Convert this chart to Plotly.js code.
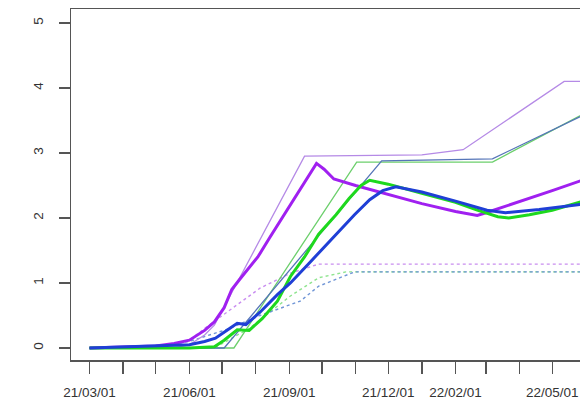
<!DOCTYPE html>
<html>
<head>
<meta charset="utf-8">
<script src="https://cdn.plot.ly/plotly-3.0.1.min.js"></script>
<style>
html,body{margin:0;padding:0;overflow:hidden;background:#fff;width:580px;height:401px;}
#chart{width:620px;height:401px;}
</style>
</head>
<body>
<div id="chart"></div>
<script>
// ---- data ----
var purpleThickX = ["2021-03-01","2021-04-01","2021-05-01","2021-05-18","2021-06-01","2021-06-15","2021-06-24","2021-07-03","2021-07-10","2021-07-17","2021-07-24","2021-08-03","2021-08-14","2021-09-02","2021-09-15","2021-09-26","2021-10-03","2021-10-12","2021-11-01","2021-12-01","2022-01-01","2022-02-01","2022-02-21","2022-03-01","2022-04-01","2022-05-01","2022-06-01"];
var purpleThickY = [0,0.01,0.03,0.07,0.12,0.27,0.4,0.62,0.9,1.05,1.2,1.4,1.7,2.2,2.55,2.84,2.75,2.6,2.5,2.36,2.22,2.1,2.04,2.08,2.25,2.42,2.6];

var purpleThinX = ["2021-03-01","2021-05-18","2021-06-01","2021-06-15","2021-06-24","2021-09-15","2022-01-01","2022-02-08","2022-05-12","2022-06-01"];
var purpleThinY = [0,0,0.05,0.2,0.35,2.95,2.97,3.05,4.1,4.1];

var purpleDotX = ["2021-03-01","2021-05-05","2021-06-01","2021-06-15","2021-07-08","2021-08-05","2021-09-02","2021-09-28","2022-06-01"];
var purpleDotY = [0,0.02,0.12,0.3,0.58,0.92,1.15,1.29,1.29];

var greenThickX = ["2021-03-01","2021-06-01","2021-06-24","2021-07-03","2021-07-15","2021-07-26","2021-08-07","2021-08-21","2021-09-02","2021-09-15","2021-09-28","2021-10-14","2021-10-26","2021-11-06","2021-11-14","2021-12-01","2022-01-01","2022-02-01","2022-02-21","2022-03-12","2022-03-22","2022-04-10","2022-05-01","2022-06-01"];
var greenThickY = [0,0,0.02,0.12,0.28,0.27,0.45,0.72,1.1,1.4,1.75,2.05,2.3,2.5,2.58,2.52,2.38,2.24,2.12,2.02,2.0,2.05,2.12,2.27];

var greenThinX = ["2021-03-01","2021-07-12","2021-11-02","2022-03-07","2022-06-01"];
var greenThinY = [0,0,2.86,2.86,3.62];

var greenDotX = ["2021-03-01","2021-06-24","2021-07-26","2021-08-14","2021-09-02","2021-09-28","2021-10-23","2022-06-01"];
var greenDotY = [0,0,0.3,0.55,0.8,1.08,1.17,1.17];

var blueThickX = ["2021-03-01","2021-05-05","2021-06-01","2021-06-15","2021-06-25","2021-07-08","2021-07-15","2021-07-23","2021-08-05","2021-08-21","2021-09-02","2021-09-19","2021-10-14","2021-10-31","2021-11-14","2021-11-26","2021-12-08","2022-01-01","2022-02-01","2022-03-02","2022-03-19","2022-04-19","2022-06-01"];
var blueThickY = [0,0.03,0.05,0.1,0.15,0.3,0.38,0.36,0.55,0.82,1.0,1.3,1.75,2.05,2.28,2.42,2.48,2.4,2.26,2.12,2.08,2.13,2.22];

var blueThinX = ["2021-03-01","2021-07-03","2021-11-25","2022-03-07","2022-06-01"];
var blueThinY = [0,0,2.88,2.91,3.6];

var blueDotX = ["2021-03-01","2021-05-05","2021-06-01","2021-07-08","2021-08-05","2021-09-11","2021-09-28","2021-10-31","2022-06-01"];
var blueDotY = [0,0.03,0.1,0.3,0.5,0.72,0.95,1.17,1.17];

var tickDates = ["2021-03-01","2021-04-01","2021-05-01","2021-06-01","2021-07-01","2021-08-01","2021-09-01","2021-10-01","2021-11-01","2021-12-01","2022-01-01","2022-02-01","2022-03-01","2022-04-01","2022-05-01","2022-06-01"];
var tickLabels = ["21/03/01","","","21/06/01","","","21/09/01","","","21/12/01","","22/02/01","","","22/05/01",""];
var yTicks = [0,1,2,3,4,5];

// ---- styles ----
var C = {
  purple:"#a020f0", purpleThin:"#b58ae6", purpleDot:"#c98ef0",
  green:"#1ed81e", greenThin:"#6ccf6c", greenDot:"#8fe48f",
  blue:"#1f3fd6", blueThin:"#5575b8", blueDot:"#6f95d6"
};
function tr(x,y,color,width,dash){
  return {x:x,y:y,type:"scatter",mode:"lines",hoverinfo:"skip",
          line:{color:color,width:width,dash:dash||"solid"}};
}
var data = [
  tr(purpleDotX,purpleDotY,C.purpleDot,1.4,"dot"),
  tr(greenDotX,greenDotY,C.greenDot,1.4,"dot"),
  tr(blueDotX,blueDotY,C.blueDot,1.4,"dot"),
  tr(purpleThinX,purpleThinY,C.purpleThin,1.3),
  tr(greenThinX,greenThinY,C.greenThin,1.3),
  tr(blueThinX,blueThinY,C.blueThin,1.3),
  tr(purpleThickX,purpleThickY,C.purple,3),
  tr(greenThickX,greenThickY,C.green,3),
  tr(blueThickX,blueThickY,C.blue,3)
];
var axisColor = "#555555";
var layout = {
  width:620, height:401,
  margin:{l:71,r:20,t:9,b:41},
  paper_bgcolor:"#ffffff", plot_bgcolor:"#ffffff",
  showlegend:false,
  font:{family:"Liberation Sans, Arial, sans-serif", size:13, color:"#333333"},
  xaxis:{
    type:"date", range:["2021-02-12","2022-06-14"],
    tickmode:"array", tickvals:tickDates, ticktext:tickLabels,
    ticks:"outside", ticklen:12, tickwidth:1.3, tickcolor:axisColor,
    showline:true, mirror:true, linecolor:axisColor, linewidth:1.5,
    showgrid:false, zeroline:false, tickangle:0,
    ticklabelstandoff:7,
    tickfont:{size:13.5}
  },
  yaxis:{
    range:[-0.185,5.215],
    tickmode:"array", tickvals:yTicks, ticktext:yTicks.map(String),
    ticks:"outside", ticklen:11, tickwidth:1.3, tickcolor:axisColor,
    showline:true, mirror:true, linecolor:axisColor, linewidth:1.5,
    showgrid:false, zeroline:false, tickangle:-90,
    ticklabelstandoff:10,
    tickfont:{size:13.5}
  }
};
Plotly.newPlot("chart", data, layout, {staticPlot:true, displayModeBar:false});
</script>
</body>
</html>
